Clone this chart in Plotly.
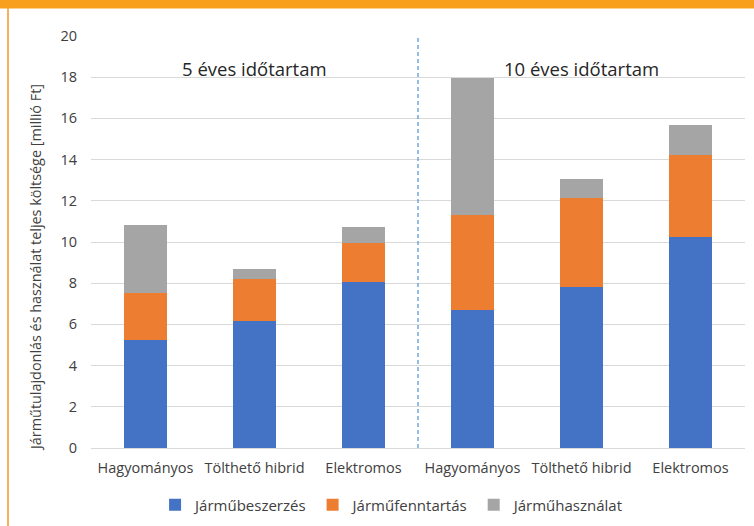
import plotly.graph_objects as go

categories = ["Hagyományos", "Tölthető hibrid", "Elektromos",
              "Hagyományos", "Tölthető hibrid", "Elektromos"]
beszerzes = [5.23, 6.15, 8.07, 6.70, 7.84, 10.24]
fenntartas = [2.28, 2.07, 1.90, 4.62, 4.32, 3.96]
hasznalat = [3.32, 0.46, 0.75, 6.63, 0.92, 1.49]
series_names = ["Járműbeszerzés", "Járműfenntartás", "Járműhasználat"]
series_colors = ["#4472C4", "#ED7D31", "#A5A5A5"]
group_labels = ["5 éves időtartam", "10 éves időtartam"]
y_title = "Járműtulajdonlás és használat teljes költsége [millió Ft]"
y_ticks = [0, 2, 4, 6, 8, 10, 12, 14, 16, 18, 20]

W, H = 754, 526
ML, MR, MT, MB = 91, 9, 36, 78
PW, PH = W - ML - MR, H - MT - MB

FONT = "Open Sans"
TXT = "#404040"
x_pos = list(range(len(categories)))

fig = go.Figure()
for name, vals, col in zip(series_names, [beszerzes, fenntartas, hasznalat], series_colors):
    fig.add_trace(go.Bar(x=x_pos, y=vals, name=name, marker=dict(color=col, line=dict(width=0))))

def px_x(p):
    return (p - ML) / PW

def px_y(p):
    return (H - MB - p) / PH

shapes = [
    dict(type="line", xref="x", yref="y", x0=2.5, x1=2.5, y0=0, y1=20,
         line=dict(color="#5B9BD5", width=1.3, dash="4px,3px")),
    dict(type="rect", xref="paper", yref="paper", x0=px_x(0), x1=px_x(W),
         y0=px_y(8.5), y1=px_y(0), fillcolor="#F8A01E", line=dict(width=0), layer="above"),
    dict(type="line", xref="paper", yref="paper", x0=px_x(8), x1=px_x(8),
         y0=px_y(H), y1=px_y(8), line=dict(color="#F6B25A", width=2)),
]

annotations = [
    dict(x=1, y=18.4, xref="x", yref="y", text=group_labels[0], showarrow=False,
         font=dict(family=FONT, size=18.5, color="#262626"), yanchor="middle"),
    dict(x=4, y=18.4, xref="x", yref="y", text=group_labels[1], showarrow=False,
         font=dict(family=FONT, size=18.5, color="#262626"), yanchor="middle"),
    dict(x=px_x(35), y=px_y(268), xref="paper", yref="paper", text=y_title,
         showarrow=False, textangle=-90, xanchor="center", yanchor="middle",
         font=dict(family=FONT, size=14.4, color=TXT)),
]

fig.update_layout(
    width=W, height=H,
    margin=dict(l=ML, r=MR, t=MT, b=MB, pad=0, autoexpand=False),
    barmode="stack", bargap=0.6,
    paper_bgcolor="white", plot_bgcolor="white",
    font=dict(family=FONT, size=14, color=TXT),
    shapes=shapes, annotations=annotations,
    legend=dict(orientation="h", xref="container", yref="container",
                x=0.52, xanchor="center", y=1 - 505 / H, yanchor="middle",
                font=dict(family=FONT, size=15, color=TXT),
                itemwidth=30, traceorder="normal"),
    xaxis=dict(tickmode="array", tickvals=x_pos, ticktext=categories,
               range=[-0.5, 5.5], showgrid=False, zeroline=False, showline=False,
               ticks="", automargin=False, ticklabelstandoff=9,
               tickfont=dict(family=FONT, size=14.5, color=TXT)),
    yaxis=dict(range=[0, 20], tickvals=y_ticks, showgrid=True, gridcolor="#D9D9D9",
               gridwidth=1, zeroline=True, zerolinecolor="#D9D9D9", zerolinewidth=1,
               showline=False, ticks="", ticklabelstandoff=13, automargin=False,
               tickfont=dict(family=FONT, size=14.5, color=TXT)),
)

fig.write_html("out.html", config={"displayModeBar": False},
               post_script="document.body.style.margin='0';")
